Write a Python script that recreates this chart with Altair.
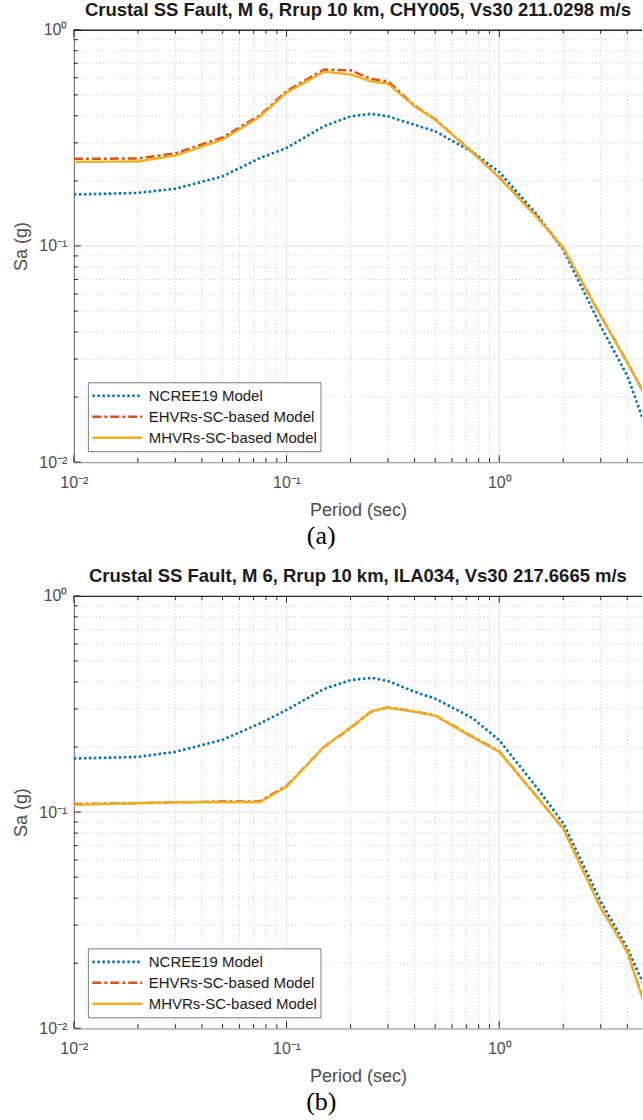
import altair as alt
import pandas as pd

# ---------------- data ----------------
periods = [0.01, 0.02, 0.03, 0.05, 0.075, 0.1, 0.15, 0.2, 0.25, 0.3, 0.4, 0.5,
           0.75, 1.0, 1.5, 2.0, 3.0, 4.0, 5.0]

models = ["NCREE19 Model", "EHVRs-SC-based Model", "MHVRs-SC-based Model"]

a_ncree = [0.173, 0.176, 0.184, 0.210, 0.255, 0.284, 0.358, 0.398, 0.409, 0.398,
           0.364, 0.339, 0.272, 0.220, 0.140, 0.096, 0.0426, 0.0251, 0.0136]
a_ehvr = [0.253, 0.254, 0.268, 0.318, 0.402, 0.520, 0.655, 0.650, 0.592, 0.578,
          0.445, 0.386, 0.271, 0.208, 0.137, 0.098, 0.0476, 0.0290, 0.0193]
a_mhvr = [0.245, 0.246, 0.262, 0.310, 0.396, 0.512, 0.640, 0.622, 0.577, 0.563,
          0.442, 0.384, 0.270, 0.207, 0.136, 0.098, 0.0474, 0.0289, 0.0192]

b_ncree = [0.177, 0.180, 0.190, 0.216, 0.257, 0.297, 0.371, 0.408, 0.418, 0.404,
           0.360, 0.335, 0.272, 0.215, 0.130, 0.0888, 0.0386, 0.0235, 0.0144]
b_ehvr = [0.109, 0.110, 0.111, 0.112, 0.112, 0.132, 0.200, 0.245, 0.292, 0.305,
          0.292, 0.280, 0.223, 0.191, 0.118, 0.0840, 0.0362, 0.0226, 0.0116]
b_mhvr = [0.108, 0.110, 0.111, 0.111, 0.111, 0.131, 0.201, 0.246, 0.293, 0.304,
          0.292, 0.279, 0.222, 0.190, 0.118, 0.0842, 0.0360, 0.0227, 0.0115]

titles = ["Crustal SS Fault, M 6, Rrup 10 km, CHY005, Vs30 211.0298 m/s",
          "Crustal SS Fault, M 6, Rrup 10 km, ILA034, Vs30 217.6665 m/s"]
panel_labels = ["(a)", "(b)"]

major_vals = [0.01, 0.1, 1.0]
x_minor = [0.02, 0.03, 0.04, 0.05, 0.06, 0.07, 0.08, 0.09,
           0.2, 0.3, 0.4, 0.5, 0.6, 0.7, 0.8, 0.9, 2.0, 3.0, 4.0]
y_minor = [0.02, 0.03, 0.04, 0.05, 0.06, 0.07, 0.08, 0.09,
           0.2, 0.3, 0.4, 0.5, 0.6, 0.7, 0.8, 0.9]

colors = ["#0072BD", "#D95319", "#EDB120"]
dashes = [[2.5, 2.5], [9, 3, 3, 3], [1, 0]]
widths = [2.6, 2.4, 3.6]

# ---------------- layout ----------------
W, H = 569, 433
FONT = "Liberation Sans"
AX = "#262626"
TXT = "#4d4d4d"

xscale = alt.Scale(type="log", domain=[0.01, 4.69], nice=False)
yscale = alt.Scale(type="log", domain=[0.01, 1.0], nice=False)

label_expr = ("datum.value >= 0.99 ? '10⁰' : (datum.value >= 0.099 ? '10⁻¹' : '10⁻²')")

xaxis = alt.Axis(values=major_vals, labelExpr=label_expr, grid=False,
                 ticks=False, domain=True, domainColor=AX, domainWidth=1,
                 labelFont=FONT, labelFontSize=16, labelColor=TXT,
                 labelPadding=12, labelFlush=False,
                 title="Period (sec)", titleFont=FONT, titleFontSize=18,
                 titleFontWeight="normal", titleColor=TXT,
                 titleX=W / 2, titleY=53, titleBaseline="alphabetic")
yaxis = alt.Axis(values=major_vals, labelExpr=label_expr, grid=False,
                 ticks=False, domain=True, domainColor=AX, domainWidth=1,
                 labelFont=FONT, labelFontSize=16, labelColor=TXT,
                 labelPadding=7, labelFlush=False,
                 title="Sa (g)", titleFont=FONT, titleFontSize=18,
                 titleFontWeight="normal", titleColor=TXT,
                 titleX=-47, titleY=H / 2, titleBaseline="alphabetic",
                 minExtent=74, maxExtent=74)


def X():
    return alt.X("period:Q", scale=xscale, axis=xaxis)


def Y():
    return alt.Y("sa:Q", scale=yscale, axis=yaxis)


def panel(vals, title):
    rows = []
    for m, series in zip(models, vals):
        for p, s in zip(periods, series):
            rows.append({"period": p, "sa": s, "model": m})
    df = pd.DataFrame(rows)

    gx_major = pd.DataFrame({"period": major_vals})
    gx_minor = pd.DataFrame({"period": x_minor})
    gy_major = pd.DataFrame({"sa": major_vals})
    gy_minor = pd.DataFrame({"sa": y_minor})

    dotted = dict(color="#c4c4c4", strokeWidth=1, strokeDash=[1, 2.5])
    solid = dict(color="#e3e3e3", strokeWidth=1)
    tk = dict(color=AX, strokeWidth=1)

    grid_minor_x = alt.Chart(gx_minor).mark_rule(**dotted).encode(x=X())
    grid_minor_y = alt.Chart(gy_minor).mark_rule(**dotted).encode(y=Y())
    grid_major_x = alt.Chart(gx_major).mark_rule(**solid).encode(x=X())
    grid_major_y = alt.Chart(gy_major).mark_rule(**solid).encode(y=Y())

    # inward ticks
    tick_y_major = alt.Chart(gy_major).mark_rule(**tk).encode(
        y=Y(), x=alt.value(0), x2=alt.value(7))
    tick_y_minor = alt.Chart(gy_minor).mark_rule(**tk).encode(
        y=Y(), x=alt.value(0), x2=alt.value(4))
    tick_xb_major = alt.Chart(gx_major).mark_rule(**tk).encode(
        x=X(), y=alt.value(H), y2=alt.value(H - 7))
    tick_xb_minor = alt.Chart(gx_minor).mark_rule(**tk).encode(
        x=X(), y=alt.value(H), y2=alt.value(H - 4))
    tick_xt_major = alt.Chart(gx_major).mark_rule(**tk).encode(
        x=X(), y=alt.value(0), y2=alt.value(7))
    tick_xt_minor = alt.Chart(gx_minor).mark_rule(**tk).encode(
        x=X(), y=alt.value(0), y2=alt.value(4))
    top_frame = alt.Chart(gx_major).mark_rule(**tk).encode(
        x=alt.value(0), x2=alt.value(W), y=alt.value(0.5))

    leg = dict(title=None, orient="none", legendX=14, legendY=353)
    lines = alt.Chart(df).mark_line(clip=True, strokeCap="butt", strokeJoin="round").encode(
        x=X(),
        y=Y(),
        color=alt.Color("model:N", scale=alt.Scale(domain=models, range=colors),
                        legend=alt.Legend(symbolType="stroke", symbolSize=2500,
                                          clipHeight=21,
                                          labelFont=FONT, labelFontSize=15, labelColor="#1a1a1a",
                                          strokeColor="#7a7a7a", fillColor="white",
                                          padding=3, rowPadding=0, labelOffset=5,
                                          labelLimit=300, **leg)),
        strokeDash=alt.StrokeDash("model:N", scale=alt.Scale(domain=models, range=dashes),
                                  legend=alt.Legend(**leg)),
        strokeWidth=alt.StrokeWidth("model:N", scale=alt.Scale(domain=models, range=widths),
                                    legend=alt.Legend(**leg)),
        order=alt.Order("order:Q"),
    ).transform_calculate(
        order=f"indexof({models!r}, datum.model)"
    )

    layered = alt.layer(
        grid_minor_x, grid_minor_y, grid_major_x, grid_major_y,
        tick_y_major, tick_y_minor, tick_xb_major, tick_xb_minor,
        tick_xt_major, tick_xt_minor, top_frame,
        lines,
    ).properties(
        width=W, height=H,
        title=alt.TitleParams(title, font=FONT, fontSize=18.5, fontWeight="bold",
                              color="#1a1a1a", anchor="middle", offset=2),
    )
    return layered


def sub(vals, title, label):
    return alt.vconcat(
        panel(vals, title),
        title=alt.TitleParams(label, orient="bottom", anchor="middle",
                              font="Liberation Serif", fontSize=26, fontWeight="normal",
                              color="#000000", offset=4),
    )


chart = alt.vconcat(
    sub([a_ncree, a_ehvr, a_mhvr], titles[0], panel_labels[0]),
    sub([b_ncree, b_ehvr, b_mhvr], titles[1], panel_labels[1]),
    spacing=18,
).resolve_scale(
    color="independent", strokeDash="independent", strokeWidth="independent"
).resolve_legend(
    color="independent", strokeDash="independent", strokeWidth="independent"
).properties(
    padding={"left": 0, "top": 0, "right": 0, "bottom": 0},
).configure_view(stroke=None).configure_concat(spacing=18)

chart.save("out.html", embed_options={"renderer": "svg", "actions": False})
